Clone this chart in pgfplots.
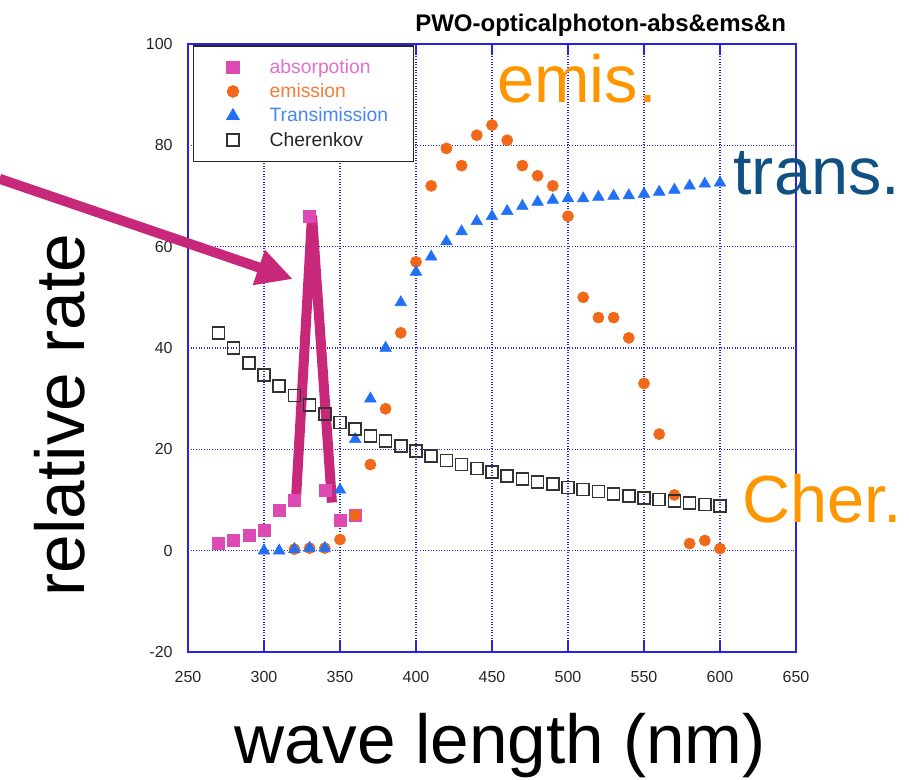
\documentclass[border=0pt]{standalone}
\usepackage{pgfplots}
\pgfplotsset{compat=1.18}
\usepackage{fontspec}
\setmainfont{Liberation Sans}
\usetikzlibrary{arrows.meta}

\definecolor{absC}{RGB}{221,74,180}
\definecolor{absT}{RGB}{226,112,204}
\definecolor{emsC}{RGB}{240,104,24}
\definecolor{emsT}{RGB}{242,125,60}
\definecolor{trnC}{RGB}{34,112,246}
\definecolor{trnT}{RGB}{70,135,250}
\definecolor{axB}{RGB}{36,36,230}
\definecolor{annC}{RGB}{200,40,122}
\definecolor{annO}{RGB}{255,150,0}
\definecolor{annB}{RGB}{16,80,130}

\begin{document}
\begin{tikzpicture}
  \begin{axis}[
    scale only axis, width=456pt, height=456pt,
    xmin=250, xmax=650, ymin=-20, ymax=100,
    xtick={250,300,...,650}, ytick={-20,0,...,100},
    clip=false,
    grid=major,
    major grid style={axB, line width=0.8pt, dash pattern=on 0.8pt off 1.2pt},
    axis line style={axB, line width=1.5pt},
    tick align=inside, major tick length=8pt,
    xtick style={axB, line width=1.1pt},
    ytick style={draw=none},
    ticklabel style={font=\fontsize{12}{14}\selectfont, text=black!85},
    xticklabel style={yshift=-11pt},
    yticklabel style={xshift=-8pt},
    /pgf/number format/assume math mode=true,
    /pgf/number format/1000 sep={},
    legend cell align=left,
    legend image code/.code={
      \path (0pt,-4pt) (24pt,4pt);
      \draw[#1] plot coordinates {(12pt,0pt)};},
    legend style={at={(rel axis cs:0.0082,0.998)}, anchor=north west,
      draw=black!85, line width=1pt, fill=white,
      font=\fontsize{14.5}{17}\selectfont,
      inner xsep=17pt, inner ysep=8pt, row sep=2.2pt,
      nodes={inner sep=2pt},
      /tikz/every odd column/.append style={column sep=13pt}},
  ]
  % absorption
  \addplot[only marks, mark=square*, mark size=4.5pt,
    mark options={draw=absC, fill=absC}]
    coordinates {
      (270,1.4)(280,2)(290,3)(300,4)(310,8)(320,10)(330,66)
      (340,12)(350,6)(360,7)
    };
  \addlegendentry{\textcolor{absT}{absorpotion}}
  % emission
  \addplot[only marks, mark=*, mark size=4.2pt,
    mark options={draw=emsC, fill=emsC}]
    coordinates {
      (320,0.3)(330,0.5)(340,0.5)(350,2.2)(360,7)(370,17)(380,28)
      (390,43)(400,57)(410,72)(420,79.4)(430,76)(440,82)(450,84)
      (460,81)(470,76)(480,74)(490,72)(500,66)(510,50)(520,46)
      (530,46)(540,42)(550,33)(560,23)(570,11)(580,1.4)(590,2)(600,0.4)
    };
  \addlegendentry{\textcolor{emsT}{emission}}
  % transmission
  \addplot[only marks, mark=triangle*, mark size=5pt,
    mark options={draw=trnC, fill=trnC}]
    coordinates {
      (300,0)(310,0)(320,0.3)(330,0.5)(340,0.5)(350,12)(360,22)
      (370,30)(380,40)(390,49)(400,55)(410,58)(420,61)(430,63)
      (440,65)(450,66)(460,67)(470,68)(480,68.8)(490,69.2)(500,69.5)
      (510,69.5)(520,69.8)(530,70)(540,70.1)(550,70.4)(560,70.8)
      (570,71.2)(580,72)(590,72.4)(600,72.6)
    };
  \addlegendentry{\textcolor{trnT}{Transimission}}
  % Cherenkov
  \addplot[only marks, mark=square, mark size=4.5pt,
    mark options={draw=black!80, line width=1.2pt}]
    coordinates {
      (270,43)(280,40)(290,37)(300,34.7)(310,32.5)(320,30.6)(330,28.7)
      (340,27)(350,25.3)(360,24)(370,22.6)(380,21.6)(390,20.6)(400,19.7)
      (410,18.7)(420,17.8)(430,17)(440,16.2)(450,15.5)(460,14.7)
      (470,14.1)(480,13.6)(490,13.1)(500,12.5)(510,12.1)(520,11.7)
      (530,11.2)(540,10.8)(550,10.4)(560,10.1)(570,9.8)(580,9.4)
      (590,9.1)(600,8.8)
    };
  \addlegendentry{\textcolor{black!85}{Cherenkov}}

  % annotations
  \draw[annC, line width=7.5pt, line join=bevel]
    (axis cs:321,9.9) -- (axis cs:331.6,66.1) -- (axis cs:344.7,9.5);
  \draw[annC, line width=7.5pt, -{Triangle[length=27pt,width=26pt]}]
    (axis cs:126,73.4) -- (axis cs:319,53.6);
  \end{axis}

  \node[anchor=base west, inner sep=0pt, font=\bfseries\fontsize{18}{20}\selectfont]
    at (170.25pt,465pt) {PWO-opticalphoton-abs\&ems\&n};
  \node[anchor=base, rotate=90, inner sep=0pt, font=\fontsize{52}{60}\selectfont]
    at (-77.25pt,177.75pt) {relative rate};
  \node[anchor=base, inner sep=0pt, font=\fontsize{52}{60}\selectfont]
    at (234pt,-83.25pt) {wave length (nm)};
  \node[anchor=base west, inner sep=0pt, text=annO, font=\fontsize{50}{60}\selectfont]
    at (231.75pt,411.75pt) {emis.};
  \node[anchor=base west, inner sep=0pt, text=annB, font=\fontsize{50}{60}\selectfont]
    at (408.75pt,342.75pt) {trans.};
  \node[anchor=base west, inner sep=0pt, text=annO, font=\fontsize{50}{60}\selectfont]
    at (415.5pt,97.5pt) {Cher.};

  \pgfresetboundingbox
  \path[use as bounding box] (-141pt,-95.25pt) rectangle (540.75pt,489pt);
\end{tikzpicture}
\end{document}
